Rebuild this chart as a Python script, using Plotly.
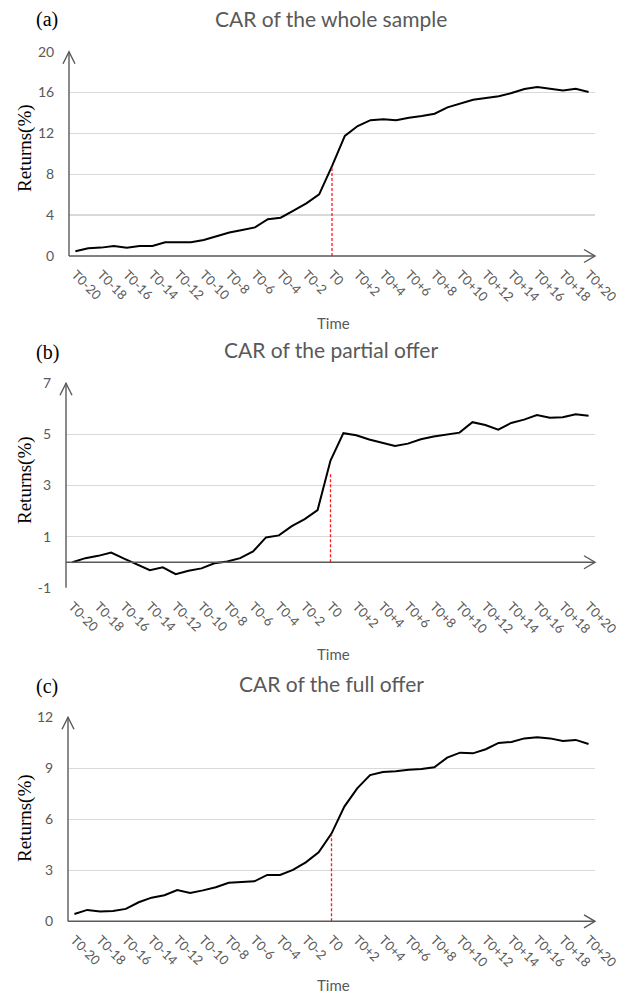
import plotly.graph_objects as go

W, H = 626, 995

# ---------------- data ----------------
time_labels = [
    "T0-20", "T0-19", "T0-18", "T0-17", "T0-16", "T0-15", "T0-14", "T0-13", "T0-12", "T0-11",
    "T0-10", "T0-9", "T0-8", "T0-7", "T0-6", "T0-5", "T0-4", "T0-3", "T0-2", "T0-1",
    "T0",
    "T0+1", "T0+2", "T0+3", "T0+4", "T0+5", "T0+6", "T0+7", "T0+8", "T0+9", "T0+10",
    "T0+11", "T0+12", "T0+13", "T0+14", "T0+15", "T0+16", "T0+17", "T0+18", "T0+19", "T0+20",
]
shown_tick_labels = time_labels[::2]
event_label = "T0"

car_whole = [0.46, 0.75, 0.82, 0.98, 0.82, 0.98, 0.98, 1.34, 1.34, 1.34,
             1.57, 1.96, 2.30, 2.55, 2.80, 3.60, 3.75, 4.44, 5.15, 6.04,
             8.80,
             11.75, 12.72, 13.30, 13.38, 13.28, 13.54, 13.70, 13.93, 14.55, 14.94,
             15.30, 15.47, 15.63, 15.95, 16.35, 16.54, 16.38, 16.20, 16.38, 16.05]

car_partial = [0.00, 0.16, 0.25, 0.38, 0.14, -0.09, -0.31, -0.20, -0.47, -0.33,
               -0.24, -0.04, 0.03, 0.16, 0.42, 0.97, 1.05, 1.41, 1.69, 2.04,
               3.98,
               5.05, 4.97, 4.80, 4.67, 4.55, 4.64, 4.81, 4.92, 5.00, 5.07,
               5.48, 5.37, 5.19, 5.45, 5.58, 5.76, 5.65, 5.67, 5.79, 5.73]

car_full = [0.43, 0.67, 0.57, 0.61, 0.73, 1.12, 1.39, 1.53, 1.84, 1.67,
            1.82, 2.00, 2.27, 2.33, 2.35, 2.73, 2.73, 3.02, 3.47, 4.06,
            5.16,
            6.75, 7.82, 8.60, 8.78, 8.82, 8.92, 8.96, 9.06, 9.63, 9.92,
            9.88, 10.12, 10.49, 10.55, 10.76, 10.82, 10.76, 10.60, 10.67, 10.43]

event_marker_top = [8.6, 3.5, 5.1]

panel_letters = ["(a)", "(b)", "(c)"]
panel_titles = ["CAR of the whole sample", "CAR of the partial offer", "CAR of the full offer"]
y_ranges = [[0, 20], [-1, 7], [0, 12]]
y_tickvals = [[0, 4, 8, 12, 16, 20], [-1, 1, 3, 5, 7], [0, 3, 6, 9, 12]]
y_ticktext = [["0", "4", "8", "12", "16", "20"], ["-1", "1", "3", "5", "7"], ["0", "3", "6", "9", "12"]]
series = [car_whole, car_partial, car_full]

# ---------------- layout geometry (pixels) ----------------
geom = [
    dict(left=69, right=595, top=51.7, bottom=256.0, title_y=18, letter_y=20, ytitle_y=148, xtitle_y=323),
    dict(left=66, right=595, top=383.3, bottom=587.8, title_y=350, letter_y=352, ytitle_y=480, xtitle_y=654),
    dict(left=68, right=595, top=717.3, bottom=921.3, title_y=683, letter_y=686, ytitle_y=818, xtitle_y=985),
]

def px(x):
    return x / W

def py(y):
    return 1 - y / H

GRID = "#d9d9d9"
AXIS = "#595959"
TXT = "#595959"
SANS = "Lato, 'Open Sans', sans-serif"
SERIF = "'Liberation Serif', 'Times New Roman', serif"

fig = go.Figure()
layout = dict(
    template="none",
    width=W, height=H, margin=dict(l=0, r=0, t=0, b=0, pad=0), autosize=False,
    paper_bgcolor="white", plot_bgcolor="white", showlegend=False,
)
shapes = []
annotations = []

for i, (g, vals) in enumerate(zip(geom, series)):
    n = "" if i == 0 else str(i + 1)
    xa, ya = "x" + n, "y" + n
    fig.add_trace(go.Scatter(
        x=time_labels, y=vals, mode="lines",
        line=dict(color="black", width=2),
        xaxis=xa, yaxis=ya, hoverinfo="skip",
    ))
    fig.add_trace(go.Scatter(
        x=[event_label, event_label], y=[0, event_marker_top[i]], mode="lines",
        line=dict(color="#ff1a1a", width=1.3, dash="3px,2px"),
        xaxis=xa, yaxis=ya, hoverinfo="skip",
    ))
    layout["xaxis" + n] = dict(
        domain=[px(g["left"]), px(g["right"])], anchor=ya, automargin=False,
        type="category", categoryorder="array", categoryarray=time_labels,
        range=[-0.5, len(time_labels) - 0.5],
        tickmode="array", tickvals=shown_tick_labels, ticktext=shown_tick_labels,
        tickangle=45, tickfont=dict(family=SANS, size=13, color=TXT),
        ticks="outside", ticklen=5, tickcolor="rgba(0,0,0,0)",
        showgrid=False, showline=False, zeroline=False, fixedrange=True,
    )
    layout["yaxis" + n] = dict(
        domain=[py(g["bottom"]), py(g["top"])], anchor=xa, automargin=False,
        range=y_ranges[i], tickmode="array", tickvals=y_tickvals[i], ticktext=y_ticktext[i],
        tickfont=dict(family=SANS, size=14, color=TXT),
        ticks="outside", ticklen=11, tickcolor="rgba(0,0,0,0)",
        showgrid=True, gridcolor=GRID, gridwidth=1.5,
        showline=False, zeroline=False, fixedrange=True,
    )
    # axes lines drawn in pixel space
    ymin, ymax = y_ranges[i]
    zero_y = g["bottom"] - (0 - ymin) / (ymax - ymin) * (g["bottom"] - g["top"])
    ax_x = g["left"]
    shapes.append(dict(type="line", xref="paper", yref="paper",
                       x0=px(ax_x), x1=px(ax_x), y0=py(g["bottom"]), y1=py(g["top"]),
                       line=dict(color=AXIS, width=1.4)))
    shapes.append(dict(type="line", xref="paper", yref="paper",
                       x0=px(ax_x), x1=px(g["right"]), y0=py(zero_y), y1=py(zero_y),
                       line=dict(color=AXIS, width=1.4)))
    # arrow heads
    t = g["top"]
    shapes.append(dict(type="path", xref="paper", yref="paper",
                       path=f"M {px(ax_x-6)},{py(t+12)} L {px(ax_x)},{py(t)} L {px(ax_x+6)},{py(t+12)}",
                       line=dict(color=AXIS, width=1.4)))
    r = g["right"]
    shapes.append(dict(type="path", xref="paper", yref="paper",
                       path=f"M {px(r-11)},{py(zero_y-6.5)} L {px(r)},{py(zero_y)} L {px(r-11)},{py(zero_y+6.5)}",
                       line=dict(color=AXIS, width=1.4)))
    # texts
    annotations.append(dict(text=panel_titles[i], xref="paper", yref="paper",
                            x=px(331), y=py(g["title_y"]), xanchor="center", yanchor="middle",
                            showarrow=False, font=dict(family=SANS, size=21, color=TXT)))
    annotations.append(dict(text=panel_letters[i], xref="paper", yref="paper",
                            x=px(47), y=py(g["letter_y"]), xanchor="center", yanchor="middle",
                            showarrow=False, font=dict(family=SERIF, size=20, color="black")))
    annotations.append(dict(text="Returns(%)", xref="paper", yref="paper",
                            x=px(25), y=py(g["ytitle_y"]), xanchor="center", yanchor="middle",
                            textangle=-90, showarrow=False,
                            font=dict(family=SERIF, size=19, color="black")))
    annotations.append(dict(text="Time", xref="paper", yref="paper",
                            x=px(333), y=py(g["xtitle_y"]), xanchor="center", yanchor="middle",
                            showarrow=False, font=dict(family=SANS, size=15, color=TXT)))

layout["shapes"] = shapes
layout["annotations"] = annotations
fig.update_layout(**layout)
fig.write_html(
    "out.html",
    config={"displayModeBar": False, "staticPlot": True},
    post_script="document.body.style.margin='0px';document.body.style.overflow='hidden';",
)
